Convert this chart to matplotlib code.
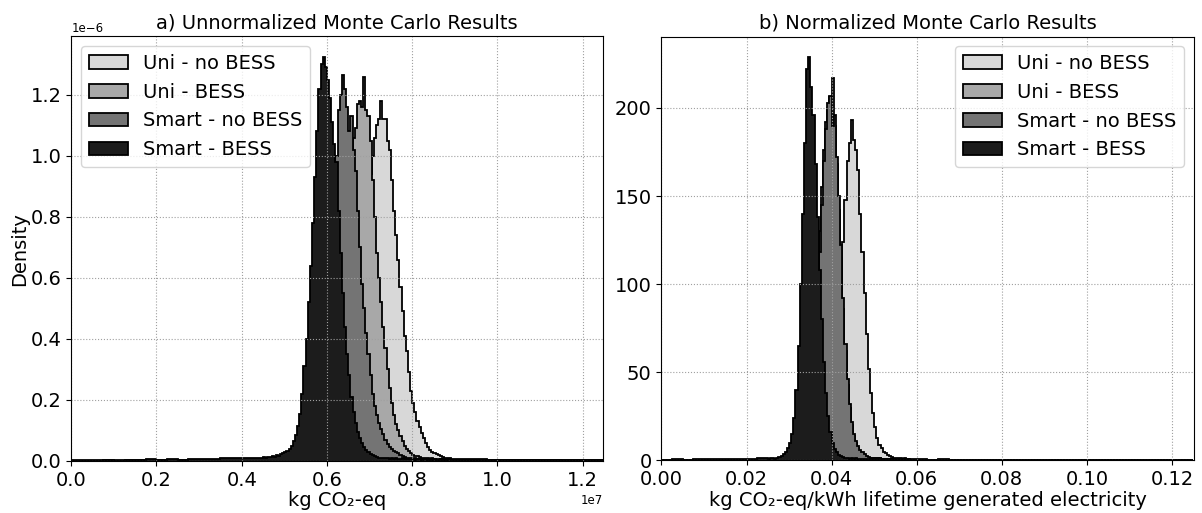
import numpy as np
import matplotlib
matplotlib.use("Agg")
import matplotlib.pyplot as plt

labels = ["Uni - no BESS", "Uni - BESS", "Smart - no BESS", "Smart - BESS"]
colors = ["#d8d8d8", "#a8a8a8", "#747474", "#1c1c1c"]

# ---------------- panel a : kg CO2-eq (x in 1e6 kg, density in 1e-6) ----------------
a_tail_step = 0.25
a_core_start = 4.5
a_core_step = 0.05

a_uni_nobess_left = [0.001, 0.001, 0.001, 0.001, 0.001, 0.001, 0.001, 0.001, 0.001,
                     0.001, 0.001, 0.001, 0.001, 0.001, 0.001, 0.001, 0.001, 0.001]
a_uni_nobess_core = [0.001, 0.002, 0.001, 0.002, 0.002, 0.002, 0.003, 0.002, 0.003, 0.003,
                     0.003, 0.003, 0.004, 0.003, 0.004, 0.004, 0.004, 0.005, 0.004, 0.005,
                     0.005, 0.006, 0.006, 0.006, 0.007, 0.007, 0.008, 0.008, 0.009, 0.010,
                     0.012, 0.014, 0.017, 0.020, 0.025, 0.030, 0.040, 0.050, 0.065, 0.085,
                     0.110, 0.150, 0.200, 0.270, 0.350, 0.450, 0.560, 0.670, 0.770, 0.860,
                     0.940, 1.000, 1.060, 1.100, 1.120, 1.180, 1.120, 1.120, 1.050, 1.020,
                     0.920, 0.820, 0.740, 0.660, 0.570, 0.490, 0.410, 0.360, 0.290, 0.230,
                     0.190, 0.160, 0.130, 0.110, 0.090, 0.075, 0.060, 0.045, 0.035, 0.030,
                     0.026, 0.022, 0.020, 0.016, 0.012, 0.010, 0.009, 0.008, 0.007, 0.006]
a_uni_nobess_right = [0.006, 0.005, 0.005, 0.004, 0.004, 0.003, 0.004, 0.003, 0.003, 0.002,
                      0.003, 0.002, 0.002, 0.002]

a_uni_bess_left = [0.001, 0.001, 0.001, 0.001, 0.001, 0.001, 0.001, 0.001, 0.001,
                   0.001, 0.001, 0.001, 0.001, 0.001, 0.002, 0.002, 0.002, 0.002]
a_uni_bess_core = [0.002, 0.003, 0.002, 0.003, 0.003, 0.003, 0.004, 0.003, 0.004, 0.004,
                   0.004, 0.005, 0.004, 0.005, 0.005, 0.005, 0.006, 0.005, 0.006, 0.006,
                   0.007, 0.007, 0.008, 0.009, 0.010, 0.015, 0.020, 0.030, 0.040, 0.060,
                   0.090, 0.130, 0.180, 0.250, 0.330, 0.430, 0.540, 0.660, 0.780, 0.880,
                   0.960, 1.020, 1.060, 1.090, 1.170, 1.180, 1.160, 1.260, 1.150, 1.130,
                   1.050, 0.920, 0.800, 0.680, 0.600, 0.520, 0.440, 0.370, 0.300, 0.240,
                   0.190, 0.150, 0.120, 0.100, 0.080, 0.065, 0.050, 0.040, 0.032, 0.025,
                   0.020, 0.017, 0.015, 0.012, 0.010, 0.011, 0.008, 0.009, 0.007, 0.008,
                   0.006, 0.007, 0.005, 0.006, 0.005, 0.004, 0.005, 0.004, 0.003, 0.004]
a_uni_bess_right = [0.003, 0.003, 0.002, 0.002, 0.002, 0.002, 0.002, 0.001, 0.002, 0.001,
                    0.001, 0.001, 0.001, 0.001]

a_smart_nobess_left = [0.001, 0.001, 0.001, 0.002, 0.001, 0.002, 0.002, 0.002, 0.002,
                       0.002, 0.002, 0.003, 0.003, 0.003, 0.003, 0.003, 0.003, 0.003]
a_smart_nobess_core = [0.003, 0.004, 0.003, 0.004, 0.003, 0.004, 0.004, 0.005, 0.004, 0.005,
                       0.005, 0.006, 0.005, 0.006, 0.006, 0.007, 0.006, 0.007, 0.007, 0.008,
                       0.012, 0.018, 0.026, 0.038, 0.055, 0.080, 0.110, 0.150, 0.210, 0.290,
                       0.390, 0.510, 0.650, 0.820, 1.000, 1.150, 1.200, 1.265, 1.220, 1.160,
                       1.080, 1.130, 1.020, 0.950, 0.820, 0.700, 0.580, 0.500, 0.420, 0.350,
                       0.280, 0.220, 0.180, 0.150, 0.125, 0.105, 0.088, 0.070, 0.055, 0.046,
                       0.040, 0.034, 0.030, 0.025, 0.020, 0.016, 0.013, 0.011, 0.009, 0.008,
                       0.007, 0.008, 0.006, 0.007, 0.005, 0.006, 0.005, 0.004, 0.006, 0.004,
                       0.005, 0.004, 0.003, 0.005, 0.004, 0.003, 0.004, 0.003, 0.004, 0.003]
a_smart_nobess_right = [0.003, 0.003, 0.002, 0.003, 0.002, 0.002, 0.002, 0.002, 0.001, 0.002,
                        0.001, 0.001, 0.001, 0.001]

a_smart_bess_left = [0.003, 0.004, 0.002, 0.003, 0.004, 0.003, 0.004, 0.005, 0.004,
                     0.005, 0.004, 0.006, 0.007, 0.006, 0.008, 0.009, 0.011, 0.010]
a_smart_bess_core = [0.012, 0.010, 0.014, 0.012, 0.016, 0.013, 0.018, 0.016, 0.022, 0.026,
                     0.030, 0.034, 0.040, 0.050, 0.065, 0.085, 0.115, 0.155, 0.220, 0.310,
                     0.400, 0.520, 0.640, 0.780, 0.930, 1.080, 1.220, 1.300, 1.325, 1.290,
                     1.250, 1.190, 1.110, 1.040, 0.980, 0.820, 0.680, 0.550, 0.440, 0.350,
                     0.280, 0.210, 0.160, 0.125, 0.095, 0.075, 0.058, 0.045, 0.036, 0.028,
                     0.022, 0.018, 0.015, 0.013, 0.011, 0.010, 0.009, 0.008, 0.010, 0.007,
                     0.008, 0.006, 0.009, 0.007, 0.006, 0.008, 0.005, 0.007, 0.006, 0.005,
                     0.007, 0.004, 0.006, 0.005, 0.004, 0.006, 0.005, 0.004, 0.005, 0.003,
                     0.005, 0.004, 0.003, 0.005, 0.004, 0.003, 0.004, 0.005, 0.003, 0.004]
a_smart_bess_right = [0.004, 0.003, 0.004, 0.003, 0.002, 0.003, 0.002, 0.003, 0.002, 0.002,
                      0.003, 0.002, 0.002, 0.003]

# ---------------- panel b : kg CO2-eq/kWh ----------------
b_tail_step = 0.0025
b_core_start = 0.025
b_core_step = 0.0005

b_uni_nobess_left = [0.1, 0.1, 0.1, 0.1, 0.1, 0.1, 0.1, 0.1, 0.1, 0.1]
b_uni_nobess_core = [0.1, 0.1, 0.2, 0.2, 0.2, 0.3, 0.3, 0.3, 0.4, 0.4,
                     0.5, 0.5, 0.6, 0.7, 0.8, 0.9, 1.0, 1.2, 1.5, 1.8,
                     2.2, 3.0, 4.0, 5.5, 7.5, 10, 13, 17, 22, 28,
                     36, 46, 60, 78, 100, 124, 148, 170, 180, 193,
                     182, 176, 165, 140, 118, 95, 72, 52, 38, 27,
                     19, 13, 9.0, 7.0, 5.0, 4.0, 3.0, 2.5, 2.0, 1.6,
                     1.4, 1.2, 1.3, 1.0, 1.1, 0.9, 1.0, 0.8, 0.9, 0.7]
b_uni_nobess_right = [0.6, 0.5, 0.5, 0.4, 0.4, 0.3, 0.4, 0.3, 0.3, 0.2, 0.3, 0.2, 0.2,
                      0.2, 0.2, 0.1, 0.2, 0.1, 0.1, 0.1, 0.1, 0.1, 0.1, 0.1, 0.1, 0.1]

b_uni_bess_left = [0.1, 0.1, 0.1, 0.1, 0.1, 0.1, 0.1, 0.2, 0.2, 0.2]
b_uni_bess_core = [0.2, 0.3, 0.3, 0.4, 0.4, 0.5, 0.5, 0.6, 0.7, 0.8,
                   1.0, 1.5, 2.0, 3.0, 4.5, 7.0, 10, 15, 22, 32,
                   44, 60, 80, 104, 130, 155, 176, 192, 200, 206,
                   217, 190, 168, 142, 115, 86, 62, 43, 30, 20,
                   14, 10, 7.0, 5.0, 3.5, 2.5, 2.0, 1.6, 1.4, 1.2,
                   1.3, 1.0, 1.1, 0.9, 0.8, 0.9, 0.7, 0.8, 0.6, 0.7,
                   0.5, 0.6, 0.5, 0.4, 0.5, 0.4, 0.3, 0.4, 0.3, 0.3]
b_uni_bess_right = [0.3, 0.3, 0.2, 0.3, 0.2, 0.2, 0.2, 0.2, 0.1, 0.2, 0.1, 0.1, 0.1,
                    0.1, 0.1, 0.1, 0.1, 0.1, 0.1, 0.1, 0.1, 0.1, 0.1, 0.1, 0.1, 0.1]

b_smart_nobess_left = [0.1, 0.1, 0.1, 0.2, 0.1, 0.2, 0.2, 0.2, 0.2, 0.3]
b_smart_nobess_core = [0.3, 0.4, 0.3, 0.4, 0.5, 0.4, 0.5, 0.6, 0.7, 0.8,
                       1.0, 1.5, 2.0, 3.0, 4.0, 6.0, 9.0, 13, 19, 27,
                       38, 52, 70, 92, 118, 145, 170, 188, 203, 207,
                       190, 196, 172, 150, 122, 92, 66, 46, 32, 22,
                       15, 11, 8.0, 6.0, 4.5, 3.5, 2.5, 2.0, 1.6, 1.3,
                       1.5, 1.1, 1.2, 0.9, 1.0, 0.8, 0.9, 0.7, 0.8, 0.6,
                       0.7, 0.5, 0.6, 0.5, 0.4, 0.5, 0.4, 0.3, 0.4, 0.3]
b_smart_nobess_right = [0.3, 0.3, 0.2, 0.3, 0.2, 0.2, 0.2, 0.2, 0.1, 0.2, 0.1, 0.1, 0.1,
                        0.1, 0.1, 0.1, 0.1, 0.1, 0.1, 0.1, 0.1, 0.1, 0.1, 0.1, 0.1, 0.1]

b_smart_bess_left = [0.5, 0.7, 0.4, 0.6, 0.8, 0.6, 0.9, 0.7, 1.0, 1.2]
b_smart_bess_core = [1.0, 1.2, 1.5, 1.0, 1.6, 2.0, 2.6, 3.5, 5.0, 7.0,
                     10, 15, 24, 40, 65, 100, 140, 180, 222, 229,
                     212, 196, 168, 138, 108, 80, 56, 38, 25, 16,
                     10, 6.5, 4.5, 3.0, 2.5, 2.0, 1.5, 1.2, 1.0, 1.3,
                     0.9, 1.1, 0.8, 1.0, 0.9, 0.7, 1.0, 0.8, 0.6, 0.9,
                     0.7, 0.8, 0.6, 0.7, 0.5, 0.8, 0.6, 0.5, 0.7, 0.6,
                     0.5, 0.6, 0.4, 0.6, 0.5, 0.4, 0.6, 0.5, 0.4, 0.5]
b_smart_bess_right = [0.5, 0.4, 0.6, 0.3, 0.5, 0.4, 0.3, 0.5, 0.3, 0.4, 0.2, 0.4, 0.3,
                      0.2, 0.3, 0.4, 0.2, 0.3, 0.2, 0.3, 0.2, 0.2, 0.3, 0.2, 0.2, 0.3]

a_series = [(a_uni_nobess_left, a_uni_nobess_core, a_uni_nobess_right),
            (a_uni_bess_left, a_uni_bess_core, a_uni_bess_right),
            (a_smart_nobess_left, a_smart_nobess_core, a_smart_nobess_right),
            (a_smart_bess_left, a_smart_bess_core, a_smart_bess_right)]
b_series = [(b_uni_nobess_left, b_uni_nobess_core, b_uni_nobess_right),
            (b_uni_bess_left, b_uni_bess_core, b_uni_bess_right),
            (b_smart_nobess_left, b_smart_nobess_core, b_smart_nobess_right),
            (b_smart_bess_left, b_smart_bess_core, b_smart_bess_right)]


def build(left, core, right, tail_step, core_start, core_step):
    e_left = core_start - tail_step * np.arange(len(left), 0, -1)
    e_core = core_start + core_step * np.arange(len(core))
    core_end = core_start + core_step * len(core)
    e_right = core_end + tail_step * np.arange(len(right) + 1)
    edges = np.concatenate([e_left, e_core, e_right])
    vals = np.concatenate([left, core, right]).astype(float)
    return edges, vals


fig = plt.figure(figsize=(12.02, 5.13), dpi=100)
axA = fig.add_axes([0.0593, 0.1016, 0.4424, 0.8273])
axB = fig.add_axes([0.5503, 0.1025, 0.4431, 0.8262])

tick_fs = 14
txt_fs = 14

for ax, series, tstep, cstart, cstep, xs, ys in [
        (axA, a_series, a_tail_step, a_core_start, a_core_step, 1e6, 1e-6),
        (axB, b_series, b_tail_step, b_core_start, b_core_step, 1.0, 1.0)]:
    ymax = 0
    for (left, core, right), lab, col in zip(series, labels, colors):
        edges, vals = build(left, core, right, tstep, cstart, cstep)
        ax.stairs(vals * ys, edges * xs, fill=True, facecolor=col,
                  edgecolor="black", linewidth=1.3, label=lab)
        ymax = max(ymax, vals.max() * ys)
    ax.set_ylim(0, ymax * 1.05)
    ax.grid(True, linestyle=":", linewidth=0.8, color="#a0a0a0")
    ax.tick_params(labelsize=tick_fs)

axA.set_xlim(0, 1.248e7)
axB.set_xlim(0, 0.1252)
axA.set_xticks(np.arange(0, 1.21e7, 0.2e7))
axB.set_xticks(np.arange(0, 0.121, 0.02))
axB.set_yticks([0, 50, 100, 150, 200])

axA.yaxis.get_offset_text().set_fontsize(8.5)
axA.xaxis.get_offset_text().set_fontsize(8.5)

axA.set_title("a) Unnormalized Monte Carlo Results", fontsize=txt_fs)
axB.set_title("b) Normalized Monte Carlo Results", fontsize=txt_fs)
axA.set_xlabel("kg CO\u2082-eq", fontsize=txt_fs, labelpad=1)
axB.set_xlabel("kg CO\u2082-eq/kWh lifetime generated electricity", fontsize=txt_fs, labelpad=1)
axA.set_ylabel("Density", fontsize=txt_fs, labelpad=1)

axA.legend(loc="upper left", fontsize=txt_fs)
axB.legend(loc="upper right", fontsize=txt_fs)

fig.savefig("out.png", dpi=100)
